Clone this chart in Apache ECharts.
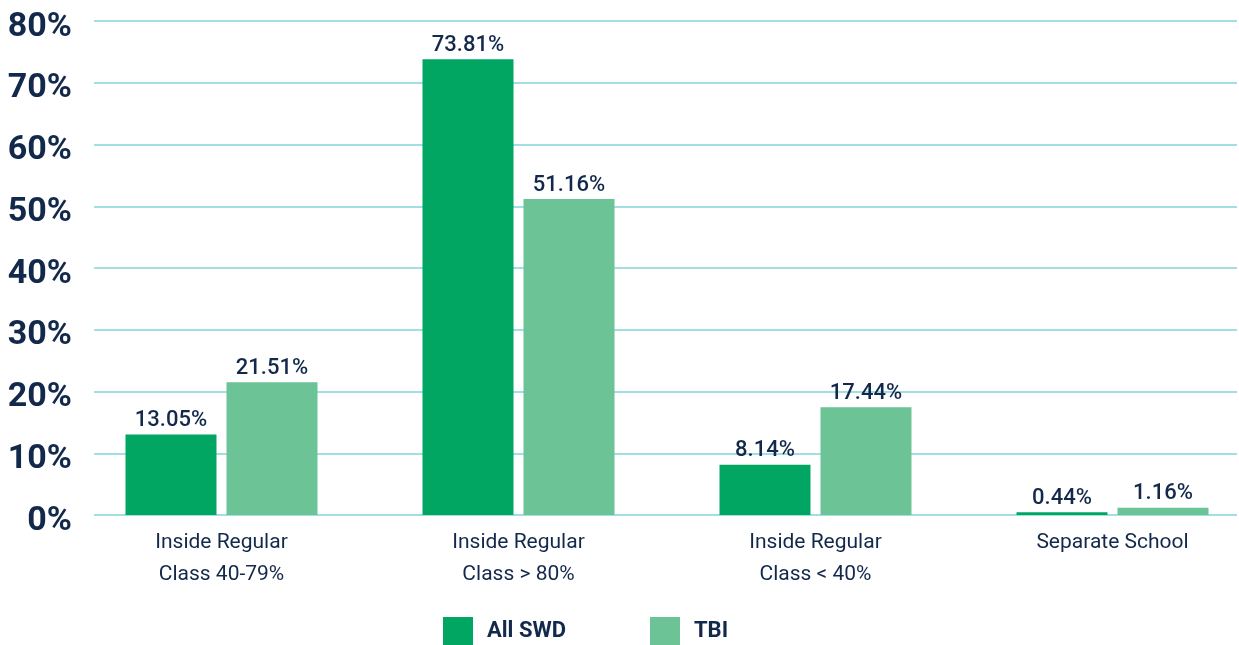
<!DOCTYPE html>
<html>
<head>
<meta charset="utf-8">
<script src="https://cdn.jsdelivr.net/npm/echarts@6/dist/echarts.min.js"></script>
<style>
    html, body { margin: 0; padding: 0; background: #fff; }
    #chart { width: 1239px; height: 645px; }
</style>
</head>
<body>
<div id="chart"></div>
<script>
    var categories = ['Inside Regular\nClass 40-79%', 'Inside Regular\nClass > 80%', 'Inside Regular\nClass < 40%', 'Separate School'];
    var allSwd = [13.05, 73.81, 8.14, 0.44];
    var tbi = [21.51, 51.16, 17.44, 1.16];
    var seriesNames = ['All SWD', 'TBI'];

    var navy = '#13294b';
    var font = 'Roboto, sans-serif';

    var myChart = echarts.init(document.getElementById('chart'));
    var option = {
        animation: false,
        textStyle: { fontFamily: font },
        legend: {
            top: 617,
            left: 443,
            padding: 0,
            itemWidth: 30,
            itemHeight: 29,
            itemGap: 84,
            icon: 'rect',
            textStyle: { color: navy, fontSize: 22, fontWeight: 'bold', fontFamily: font, padding: [0, 0, 0, 9] },
            data: seriesNames
        },
        grid: [
            { left: 94, right: 2, top: 21, bottom: 130, outerBoundsMode: 'none' },
            { left: 73, width: 1188, top: 21, bottom: 130, outerBoundsMode: 'none' }
        ],
        xAxis: [
            { type: 'category', gridIndex: 0, data: categories, show: false },
            {
                type: 'category', gridIndex: 1, data: categories,
                axisLine: { show: false },
                axisTick: { show: false },
                axisLabel: { color: navy, fontSize: 21, lineHeight: 32, margin: 12, fontFamily: font }
            }
        ],
        yAxis: [
            {
                type: 'value', gridIndex: 0, min: 0, max: 80, interval: 10,
                axisLine: { show: false },
                axisTick: { show: false },
                splitLine: { lineStyle: { color: '#82d4d8', width: 1.5 } },
                axisLabel: {
                    formatter: '{value}%', color: navy, fontSize: 34, fontWeight: 'bold',
                    margin: 22, verticalAlign: 'top', lineHeight: 12, fontFamily: font
                }
            },
            { type: 'value', gridIndex: 1, min: 0, max: 80, interval: 10, show: false }
        ],
        series: [
            {
                name: seriesNames[0], type: 'bar', xAxisIndex: 1, yAxisIndex: 1,
                data: allSwd, barWidth: 91, barGap: '11%',
                itemStyle: { color: '#00a661' },
                label: {
                    show: true, position: 'top', distance: 3, color: navy, fontSize: 22, fontWeight: 500, fontFamily: font,
                    formatter: function(p) { return p.value.toFixed(2) + '%'; }
                }
            },
            {
                name: seriesNames[1], type: 'bar', xAxisIndex: 1, yAxisIndex: 1,
                data: tbi, barWidth: 91, barGap: '11%',
                itemStyle: { color: '#6bc396' },
                label: {
                    show: true, position: 'top', distance: 3, color: navy, fontSize: 22, fontWeight: 500, fontFamily: font,
                    formatter: function(p) { return p.value.toFixed(2) + '%'; }
                }
            }
        ]
    };
    myChart.setOption(option);
</script>
</body>
</html>
